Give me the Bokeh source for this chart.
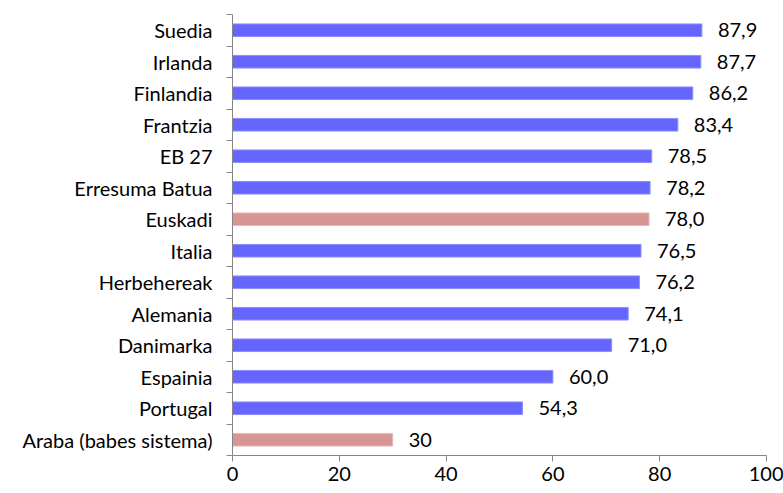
from bokeh.plotting import figure
from bokeh.models import ColumnDataSource, Range1d, FixedTicker
from bokeh.embed import file_html
from bokeh.resources import INLINE
from bokeh.core.properties import value

categories = ["Suedia", "Irlanda", "Finlandia", "Frantzia", "EB 27", "Erresuma Batua",
              "Euskadi", "Italia", "Herbehereak", "Alemania", "Danimarka", "Espainia",
              "Portugal", "Araba (babes sistema)"]
values = [87.9, 87.7, 86.2, 83.4, 78.5, 78.2, 78.0, 76.5, 76.2, 74.1, 71.0, 60.0, 54.3, 30]
value_labels = ["87,9", "87,7", "86,2", "83,4", "78,5", "78,2", "78,0", "76,5", "76,2",
                "74,1", "71,0", "60,0", "54,3", "30"]
highlight = ["Euskadi", "Araba (babes sistema)"]
x_ticks = [0, 20, 40, 60, 80, 100]

n = len(categories)
ypos = [n - 1 - i for i in range(n)]
colors = ["#D99594" if c in highlight else "#6666FF" for c in categories]
lines = ["#E6B9B8" if c in highlight else "#8C8CFF" for c in categories]

src = ColumnDataSource(dict(y=ypos, v=values, lab=value_labels, color=colors, lc=lines))

FONT = "Lato"
FS = "20px"
p = figure(width=783, height=493, output_backend="svg", toolbar_location=None,
           x_range=Range1d(0, 100), y_range=Range1d(-0.5, n - 0.5),
           min_border_left=232, min_border_right=17, min_border_top=14, min_border_bottom=38)
p.outline_line_color = None
p.xgrid.visible = False
p.ygrid.visible = False

p.hbar(y="y", right="v", left=0, height=0.4, fill_color="color", line_color="lc",
       line_width=1, source=src)
p.text(x="v", y="y", text="lab", source=src, x_offset=16, text_align="left",
       text_baseline="middle", text_font=value(FONT), text_font_size=FS,
       text_color="#000000")

ax = p.xaxis[0]
ax.ticker = FixedTicker(ticks=x_ticks)
ax.axis_line_color = "#868686"
ax.major_tick_line_color = "#868686"
ax.major_tick_out = 6
ax.major_tick_in = 0
ax.minor_tick_line_color = None
ax.major_label_text_font = FONT
ax.major_label_text_font_size = FS
ax.major_label_text_color = "#000000"
ax.major_label_standoff = 5

ay = p.yaxis[0]
ay.ticker = FixedTicker(ticks=ypos, minor_ticks=[i - 0.5 for i in range(n + 1)])
ay.major_label_overrides = {y: c for y, c in zip(ypos, categories)}
ay.axis_line_color = "#868686"
ay.major_tick_line_color = None
ay.major_tick_out = 6
ay.major_tick_in = 0
ay.minor_tick_line_color = "#868686"
ay.minor_tick_out = 6
ay.minor_tick_in = 0
ay.major_label_text_font = FONT
ay.major_label_text_font_size = FS
ay.major_label_text_color = "#000000"
ay.major_label_standoff = 14

open("out.html", "w").write(file_html(p, INLINE))
